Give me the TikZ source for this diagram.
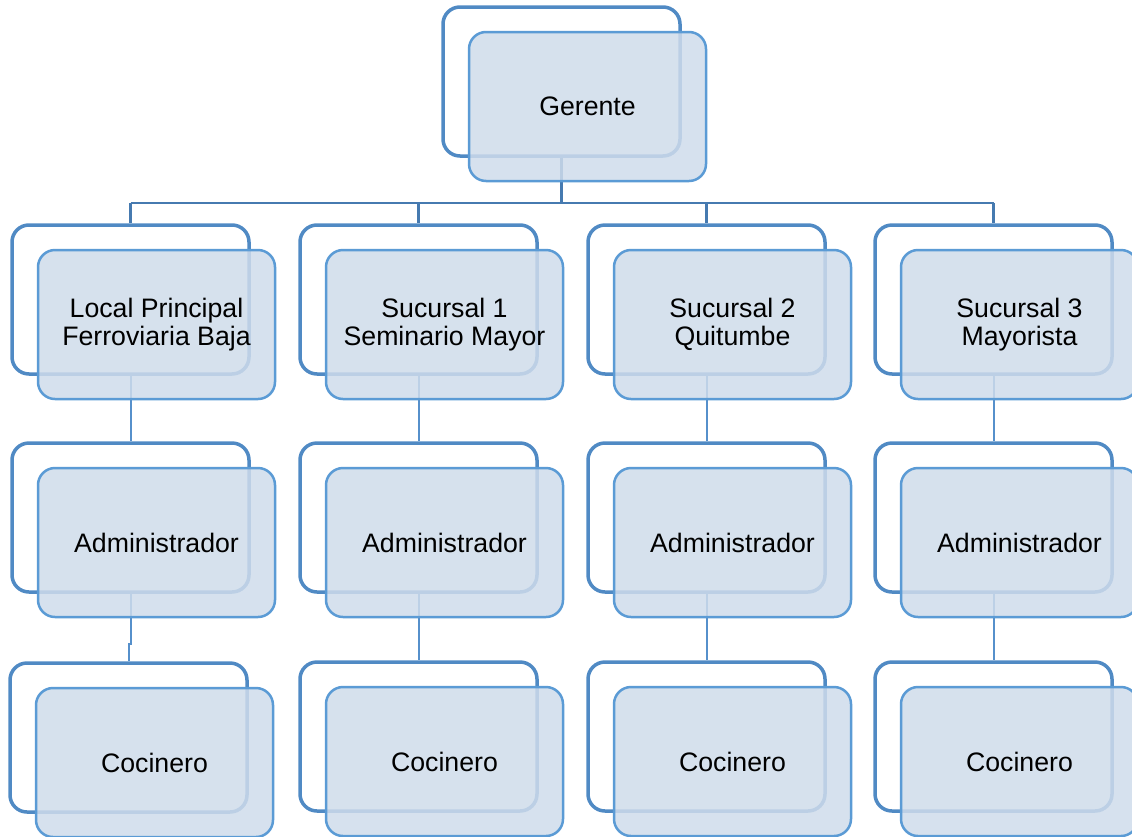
\documentclass[tikz,border=0pt]{standalone}
\usepackage{fontspec}
\setmainfont{Liberation Sans}
\definecolor{frameblue}{RGB}{80,138,196}
\definecolor{boxline}{RGB}{91,155,213}
\definecolor{boxfill}{RGB}{207,220,235}
\definecolor{busblue}{RGB}{70,122,176}
\definecolor{linkblue}{RGB}{86,144,203}
\tikzset{
  backbox/.style={draw=frameblue, line width=3.5pt, fill=white, rounded corners=17pt,
    minimum width=237pt, minimum height=149pt, inner sep=0pt},
  frontbox/.style={draw=boxline, line width=2.5pt, fill=boxfill, fill opacity=0.85,
    text opacity=1, rounded corners=17pt, minimum width=237pt, minimum height=149pt,
    inner sep=0pt, align=center, xshift=26pt, yshift=-25pt,
    font=\fontsize{26.7}{28}\selectfont},
  buslink/.style={draw=busblue, line width=2.2pt},
  orglink/.style={draw=linkblue, line width=2pt}
}
\begin{document}
\begin{tikzpicture}[x=1pt,y=-1pt]
\useasboundingbox (0,0) rectangle (1132,836);
% back frames
\node[backbox] (gb) at (561.5,81.5) {};
\foreach \c/\x in {1/130.5,2/418.5,3/706.5,4/993.5}{
  \node[backbox] (s\c b) at (\x,299.5) {};
  \node[backbox] (a\c b) at (\x,517.5) {};
}
\node[backbox] (c1b) at (128.5,737.5) {};
\foreach \c/\x in {2/418.5,3/706.5,4/993.5}{
  \node[backbox] (c\c b) at (\x,736.5) {};
}
% connectors
\coordinate (bus) at (0,203);
\draw[buslink] (gb.south) -- (gb.south |- bus);
\draw[buslink] (s1b.north |- bus) -- (s4b.north |- bus);
\foreach \c in {1,2,3,4}{
  \draw[buslink] (s\c b.north |- bus) -- (s\c b.north);
  \draw[orglink] (s\c b.south) -- (a\c b.north);
}
\draw[orglink] (a1b.south) -- ++(0,50) -| (c1b.north);
\foreach \c in {2,3,4}{
  \draw[orglink] (a\c b.south) -- (c\c b.north);
}
% front boxes with labels
\node[frontbox] (g) at (gb) {Gerente};
\node[frontbox] (s1) at (s1b) {Local Principal\\Ferroviaria Baja};
\node[frontbox] (s2) at (s2b) {Sucursal 1\\Seminario Mayor};
\node[frontbox] (s3) at (s3b) {Sucursal 2\\Quitumbe};
\node[frontbox] (s4) at (s4b) {Sucursal 3\\Mayorista};
\foreach \c in {1,2,3,4}{
  \node[frontbox] (a\c) at (a\c b) {Administrador};
  \node[frontbox] (c\c) at (c\c b) {Cocinero};
}
\end{tikzpicture}
\end{document}
